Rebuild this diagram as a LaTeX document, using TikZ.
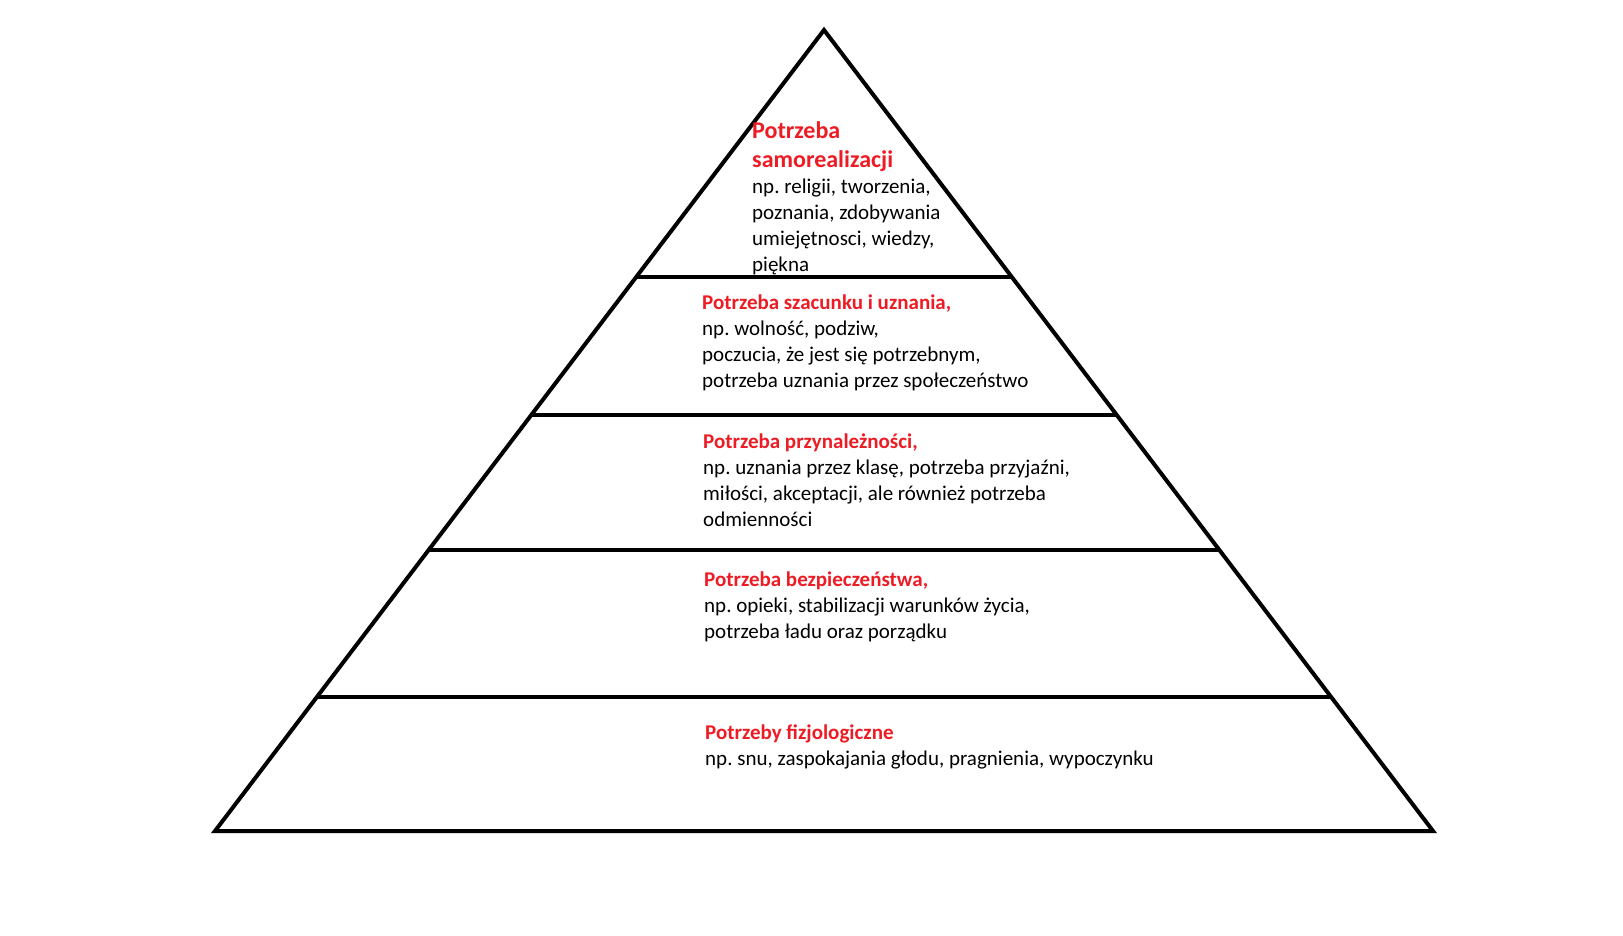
\documentclass[tikz,border=0pt]{standalone}
\usepackage{fontspec}
\setmainfont{Carlito}
\usetikzlibrary{calc}
\definecolor{needred}{RGB}{237,28,36}
\newcommand\needhead[1]{\textcolor{needred}{\textbf{#1}}}
\frenchspacing

\begin{document}
\begin{tikzpicture}[
	x=1pt,
	y=-1pt,
	edge/.style={line width=4pt, line join=miter, black},
	level/.style={font=\fontsize{21}{26}\selectfont, align=left, anchor=base west, inner sep=0pt},
	tophead/.style={level, font=\fontsize{24}{29}\selectfont\bfseries, text=needred}
]

\useasboundingbox (0,0) rectangle (1623,935);

\def\apexy{30}
\def\basey{831}

\coordinate (apex) at (824,\apexy);
\coordinate (baseL) at (215,\basey);
\coordinate (baseR) at (1433,\basey);

\draw[edge] (apex) -- (baseL) -- (baseR) -- cycle;

\foreach \y [count=\k] in {277, 415, 550, 697} {
	\coordinate (divL\k) at ($(apex)!{(\y-\apexy)/(\basey-\apexy)}!(baseL)$);
	\coordinate (divR\k) at ($(apex)!{(\y-\apexy)/(\basey-\apexy)}!(baseR)$);
	\draw[edge] (divL\k) -- (divR\k);
}

% szczyt (base = ostatnia linia)
\node[tophead] (selfhead) at (752,167) {Potrzeba\\samorealizacji};
\node[level] (selftext) at (752,271) {np. religii, tworzenia,\\poznania, zdobywania\\umiejętnosci, wiedzy,\\piękna};

\node[level] (esteem) at (702,387) {\needhead{Potrzeba szacunku i uznania,}\\np. wolność, podziw,\\poczucia, że jest się potrzebnym,\\potrzeba uznania przez społeczeństwo};

\node[level] (belong) at (703,526) {\needhead{Potrzeba przynależności,}\\np. uznania przez klasę, potrzeba przyjaźni,\\miłości, akceptacji, ale również potrzeba\\odmienności};

\node[level] (safety) at (704,638) {\needhead{Potrzeba bezpieczeństwa,}\\np. opieki, stabilizacji warunków życia,\\potrzeba ładu oraz porządku};

% podstawa
\node[level] (physio) at (705,765) {\needhead{Potrzeby fizjologiczne}\\np. snu, zaspokajania głodu, pragnienia, wypoczynku};

\end{tikzpicture}
\end{document}
